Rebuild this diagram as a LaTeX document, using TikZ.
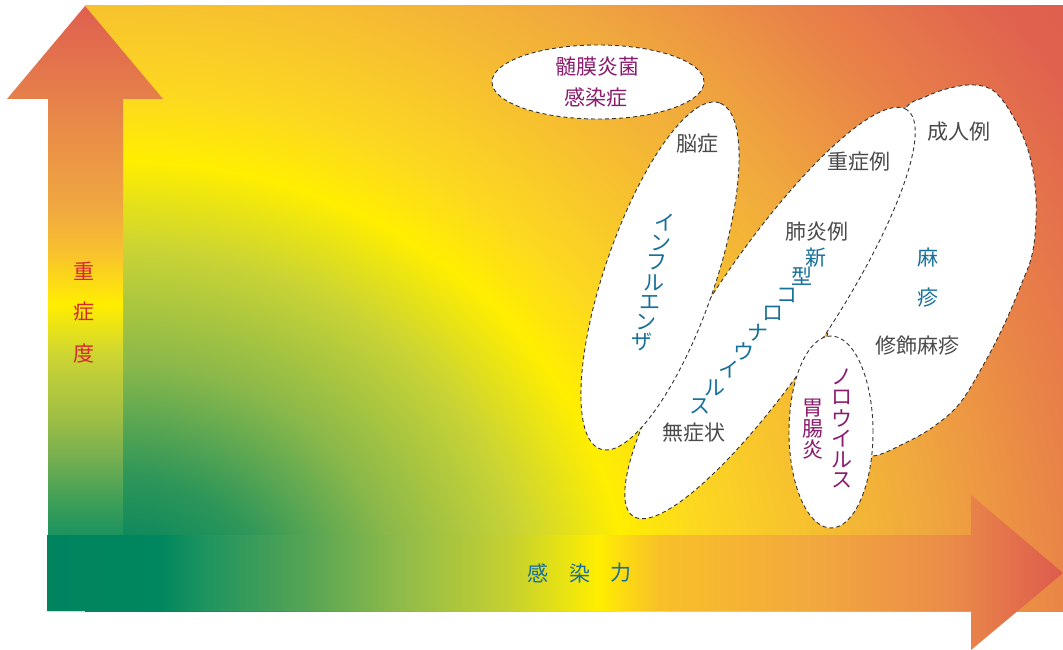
\documentclass[tikz,border=0pt]{standalone}
\usepackage{fontspec}
\setmainfont{Noto Sans CJK JP}
\usetikzlibrary{shapes.geometric}

\definecolor{bgA}{HTML}{00835E}
\definecolor{bgB}{HTML}{2E9659}
\definecolor{bgC}{HTML}{8AB84A}
\definecolor{bgD}{HTML}{C8D335}
\definecolor{bgE}{HTML}{FFEE00}
\definecolor{bgF}{HTML}{FCD820}
\definecolor{bgG}{HTML}{F7C22E}
\definecolor{bgH}{HTML}{F0A83E}
\definecolor{bgI}{HTML}{E88048}
\definecolor{bgJ}{HTML}{E0624E}
\definecolor{bgK}{HTML}{DE5A4E}

\definecolor{uA}{HTML}{00845F}
\definecolor{uB}{HTML}{159060}
\definecolor{uC}{HTML}{40A058}
\definecolor{uD}{HTML}{75AE50}
\definecolor{uE}{HTML}{9FBE45}
\definecolor{uF}{HTML}{CDD532}
\definecolor{uG}{HTML}{FFEE00}
\definecolor{uH}{HTML}{F8C030}
\definecolor{uI}{HTML}{F0A840}
\definecolor{uJ}{HTML}{E88A48}
\definecolor{uK}{HTML}{E6804A}
\definecolor{uL}{HTML}{DF5F4F}

\definecolor{hA}{HTML}{00845F}
\definecolor{hB}{HTML}{00875F}
\definecolor{hC}{HTML}{1E9460}
\definecolor{hD}{HTML}{55A455}
\definecolor{hE}{HTML}{93BC48}
\definecolor{hF}{HTML}{C4D030}
\definecolor{hG}{HTML}{FFEE00}
\definecolor{hH}{HTML}{F8C028}
\definecolor{hI}{HTML}{F2A83E}
\definecolor{hJ}{HTML}{EA8C48}
\definecolor{hK}{HTML}{DE5A4E}

\definecolor{txtgraycol}{HTML}{4A4A4A}
\definecolor{txtbluecol}{HTML}{17709A}
\definecolor{txtpurplecol}{HTML}{8A1C6E}
\definecolor{txtredcol}{HTML}{D7282E}
\definecolor{dashcol}{HTML}{333333}

\pgfdeclareradialshading{bgshade}{\pgfpoint{0bp}{0bp}}{%
 color(0bp)=(bgA); color(1bp)=(bgA); color(3bp)=(bgB); color(5.5bp)=(bgC);
 color(8bp)=(bgD); color(10bp)=(bgE); color(11.5bp)=(bgF); color(13.5bp)=(bgG);
 color(16bp)=(bgH); color(19bp)=(bgI); color(22bp)=(bgJ); color(25bp)=(bgK);
 color(50bp)=(bgK)}

\pgfdeclarehorizontalshading{upshade}{100bp}{%
 color(0bp)=(uA); color(27.3bp)=(uA); color(30.8bp)=(uB); color(34.2bp)=(uC);
 color(37.6bp)=(uD); color(41bp)=(uE); color(46.2bp)=(uF); color(50.3bp)=(uG);
 color(54.8bp)=(uH); color(58.3bp)=(uI); color(65.2bp)=(uJ); color(67.3bp)=(uK);
 color(75bp)=(uL); color(100bp)=(uL)}

\pgfdeclarehorizontalshading{botshade}{100bp}{%
 color(0bp)=(hA); color(25bp)=(hA); color(30.6bp)=(hB); color(32.7bp)=(hC);
 color(37.7bp)=(hD); color(42.7bp)=(hE); color(47.7bp)=(hF); color(52.1bp)=(hG);
 color(55.1bp)=(hH); color(62.7bp)=(hI); color(69.4bp)=(hJ); color(75bp)=(hK);
 color(100bp)=(hK)}

\begin{document}
\begin{tikzpicture}[x=1pt,y=-1pt,
  blob/.style={draw=dashcol, line width=0.9pt, dash pattern=on 4pt off 3pt, fill=white},
  oval/.style={blob, ellipse, inner sep=0pt},
  lbl/.style={font=\fontsize{21}{24}\selectfont, inner sep=0pt},
  txtgray/.style={lbl, text=txtgraycol},
  txtblue/.style={lbl, text=txtbluecol},
  txtpurple/.style={lbl, text=txtpurplecol},
  txtred/.style={lbl, text=txtredcol}]
\useasboundingbox (0,0) rectangle (1063,650);

% background
\begin{scope}
  \clip (85,6) rectangle (1063,611);
  \shade[shading=bgshade] (-1140.5,-514) rectangle (1384.5,1736);
\end{scope}

% axis arrows
\shade[shading=upshade, shading angle=90]
  (48,611) -- (48,99) -- (7,99) -- (85,6) -- (163,99) -- (123,99) -- (123,611) -- cycle;
\shade[shading=botshade]
  (47,535) -- (971,535) -- (971,495) -- (1063,573) -- (971,650) -- (971,611) -- (47,611) -- cycle;

\node[txtred] (sev1) at (84,271) {重};
\node[txtred] (sev2) at (84,312) {症};
\node[txtred] (sev3) at (84,354) {度};
\node[txtblue] (inf1) at (538,573) {感};
\node[txtblue] (inf2) at (580,573) {染};
\node[txtblue] (inf3) at (621,573) {力};

% meningococcal
\node[oval, minimum width=212pt, minimum height=74pt] (menin) at (598,82) {};
\node[txtpurple] (menin1) at (597,67) {髄膜炎菌};
\node[txtpurple] (menin2) at (596,97) {感染症};

% measles
\draw[blob] plot[smooth cycle, tension=0.6] coordinates {
 (904,110) (925,97) (950,88) (975,85) (995,92) (1014,118) (1028,150)
 (1035,185) (1036,220) (1032,255) (1021,285) (1004,325) (985,362)
 (960,403) (933,427) (905,443) (873,456) (845,450) (825,420)
 (822,370) (835,300) (855,230) (878,160)};

% covid
\node[oval, minimum width=490pt, minimum height=116pt, rotate=56] (covid) at (770,313) {};
% influenza
\node[oval, minimum width=366pt, minimum height=110pt, rotate=71] (flu) at (660,276) {};
% norovirus
\node[oval, minimum width=84pt, minimum height=192pt] (noro) at (831,432) {};

% texts
\node[txtgray] (enceph) at (697,144) {脳症};
\node[txtgray] (severe) at (859,162) {重症例};
\node[txtgray] (adult) at (959,132) {成人例};
\node[txtgray] (pneu) at (817,232) {肺炎例};
\node[txtgray] (modif) at (917,346) {修飾麻疹};
\node[txtgray] (asym) at (694,433) {無症状};
\node[txtblue] (meas1) at (928,257) {麻};
\node[txtblue] (meas2) at (928,298) {疹};

\foreach \c [count=\i from 0] in {イ,ン,フ,ル,エ,ン,ザ}
  \node[txtblue] (fluc\i) at ({665-3.8*\i},{223+19.8*\i}) {\c};
\foreach \c [count=\i from 0] in {新,型,コ,ロ,ナ,ウ,イ,ル,ス}
  \node[txtblue] (cov\i) at ({816-14.5*\i},{258+18.6*\i}) {\c};
\foreach \c [count=\i from 0] in {ノ,ロ,ウ,イ,ル,ス}
  \node[txtpurple] (noroc\i) at (842,{377+20.6*\i}) {\c};
\foreach \c [count=\i from 0] in {胃,腸,炎}
  \node[txtpurple] (gast\i) at (813,{408+21*\i}) {\c};
\end{tikzpicture}
\end{document}
